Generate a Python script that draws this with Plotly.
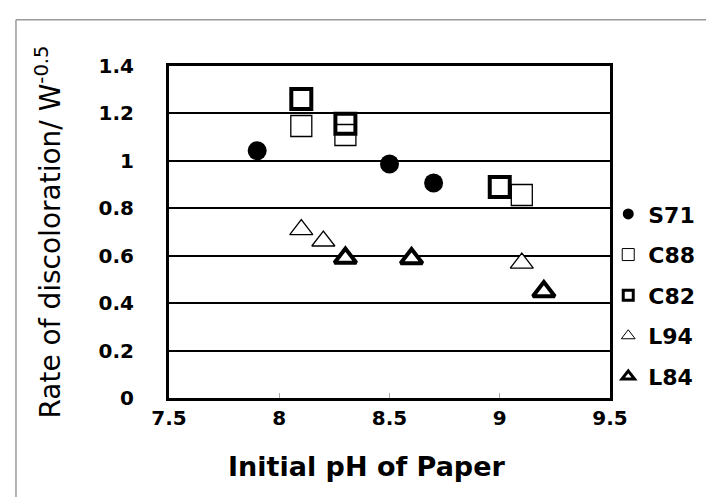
import plotly.graph_objects as go

# ---- data ----
s71_x = [7.9, 8.5, 8.7]
s71_y = [1.043, 0.987, 0.907]

c88_x = [8.1, 8.3, 9.1]
c88_y = [1.147, 1.109, 0.856]

c82_x = [8.1, 8.3, 9.0]
c82_y = [1.261, 1.156, 0.89]

l94_x = [8.1, 8.2, 9.1]
l94_y = [0.71, 0.662, 0.569]

l84_x = [8.3, 8.6, 9.2]
l84_y = [0.59, 0.588, 0.449]

series_names = ["S71", "C88", "C82", "L94", "L84"]

x_ticks = [7.5, 8, 8.5, 9, 9.5]
y_ticks = [0, 0.2, 0.4, 0.6, 0.8, 1, 1.2, 1.4]
y_tick_text = ["0", "0.2", "0.4", "0.6", "0.8", "1", "1.2", "1.4"]

FONT = "DejaVu Sans"

styles = [
    dict(symbol="circle", size=19, color="black", line=dict(width=0)),
    dict(symbol="square", size=21, color="white", line=dict(color="black", width=1.3)),
    dict(symbol="square", size=20, color="rgba(255,255,255,0)", line=dict(color="black", width=4)),
    dict(symbol="triangle-up", size=20, color="white", line=dict(color="black", width=1.3)),
    dict(symbol="triangle-up", size=19, color="white", line=dict(color="black", width=4)),
]
legend_styles = [
    dict(symbol="circle", size=11, color="black", line=dict(width=0)),
    dict(symbol="square", size=12, color="white", line=dict(color="black", width=1)),
    dict(symbol="square", size=10, color="white", line=dict(color="black", width=3)),
    dict(symbol="triangle-up", size=12, color="white", line=dict(color="black", width=1)),
    dict(symbol="triangle-up", size=11, color="white", line=dict(color="black", width=3)),
]
xs = [s71_x, c88_x, c82_x, l94_x, l84_x]
ys = [s71_y, c88_y, c82_y, l94_y, l84_y]

fig = go.Figure()
for i, name in enumerate(series_names):
    fig.add_trace(go.Scatter(
        x=xs[i], y=ys[i], mode="markers", name=name, legendgroup=name,
        showlegend=False, marker=styles[i],
    ))
    # legend entry with the smaller legend symbol
    fig.add_trace(go.Scatter(
        x=[None], y=[None], mode="markers", name=name, legendgroup=name,
        showlegend=True, marker=legend_styles[i], hoverinfo="skip",
    ))

fig.update_layout(
    width=714, height=497,
    margin=dict(l=161, r=112, t=58, b=107),
    paper_bgcolor="white", plot_bgcolor="white",
    font=dict(family=FONT, color="black"),
    showlegend=True,
    legend=dict(
        x=0.996, xanchor="left", y=0.617, yanchor="top",
        font=dict(family=FONT, size=22, color="black", weight="bold"),
        itemsizing="trace", tracegroupgap=9,
        bgcolor="rgba(0,0,0,0)",
    ),
    xaxis=dict(
        range=[7.5, 9.5], tickvals=x_ticks, ticktext=[str(v) for v in x_ticks],
        showgrid=False, zeroline=False,
        showline=True, linecolor="black", linewidth=3, mirror=True,
        ticks="inside", ticklen=5, tickcolor="#aaaaaa", tickwidth=1,
        tickfont=dict(family=FONT, size=20, color="black", weight="bold"),
        ticklabelstandoff=0,
    ),
    yaxis=dict(
        range=[0, 1.4], tickvals=y_ticks, ticktext=y_tick_text,
        showgrid=True, gridcolor="black", gridwidth=1.5,
        zeroline=False,
        showline=True, linecolor="black", linewidth=3, mirror=True,
        ticks="",
        tickfont=dict(family=FONT, size=20, color="black", weight="bold"),
        ticklabelstandoff=28,
        title=dict(text="Rate of discoloration/ W<sup>-0.5</sup>",
                   font=dict(family=FONT, size=28, color="black"),
                   standoff=30),
    ),
    annotations=[
        dict(text="Initial pH of Paper", xref="paper", yref="paper",
             x=0.45, y=-0.205, xanchor="center", yanchor="middle",
             showarrow=False,
             font=dict(family=FONT, size=27, color="black", weight="bold")),
    ],
    shapes=[
        dict(type="line", xref="paper", yref="paper",
             x0=-0.347, x1=1.3, y0=1.139, y1=1.139,
             line=dict(color="#999999", width=1.5)),
        dict(type="line", xref="paper", yref="paper",
             x0=-0.347, x1=-0.347, y0=1.139, y1=-0.4,
             line=dict(color="#999999", width=1.5)),
    ],
)

fig.write_html("out.html")
